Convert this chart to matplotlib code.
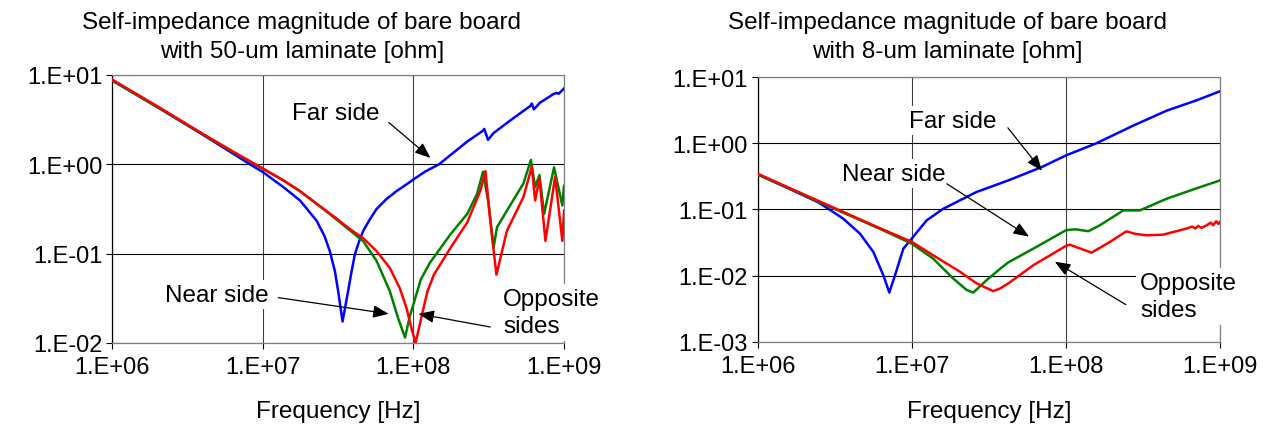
import matplotlib
matplotlib.use("Agg")
import matplotlib.pyplot as plt
from matplotlib.ticker import FixedLocator, FixedFormatter, NullLocator

plt.rcParams['font.family'] = ['Liberation Sans', 'DejaVu Sans']

FS = 17.5        # titles, axis titles and call-outs
FS_TICK = 17
BLUE, GREEN, RED = '#0000FF', '#008000', '#FF0000'

# ---- axis ticks ----------------------------------------------------------
freq_ticks = [1e6, 1e7, 1e8, 1e9]
freq_tick_labels = ['1.E+06', '1.E+07', '1.E+08', '1.E+09']

z_ticks_50 = [1e-2, 1e-1, 1e0, 1e1]
z_tick_labels_50 = ['1.E-02', '1.E-01', '1.E+00', '1.E+01']

z_ticks_8 = [1e-3, 1e-2, 1e-1, 1e0, 1e1]
z_tick_labels_8 = ['1.E-03', '1.E-02', '1.E-01', '1.E+00', '1.E+01']

# ---- 50-um laminate: self-impedance [ohm] vs frequency [Hz] --------------
far_50_f = [1.0e6, 2.0e6, 3.98e6, 6.31e6, 8.24e6, 1.0e7, 1.37e7, 1.77e7, 2.28e7,
            2.57e7, 2.79e7, 3.02e7, 3.17e7, 3.39e7, 3.69e7, 3.89e7, 4.09e7,
            4.37e7, 4.65e7, 5.13e7, 5.70e7, 6.61e7, 7.73e7, 8.91e7, 1.0e8,
            1.20e8, 1.48e8, 2.28e8, 2.86e8, 2.96e8, 3.13e8, 3.41e8, 4.47e8,
            5.96e8, 6.11e8, 6.31e8, 6.93e8, 8.49e8, 8.93e8, 9.23e8, 1.0e9]
far_50_z = [8.71, 4.37, 2.16, 1.33, 1.00, 0.822, 0.557, 0.394, 0.234,
            0.158, 0.107, 0.063, 0.038, 0.0174, 0.038, 0.063, 0.0977,
            0.138, 0.180, 0.240, 0.316, 0.407, 0.501, 0.589, 0.676,
            0.832, 1.00, 1.80, 2.34, 2.49, 1.88, 2.24, 3.16,
            4.49, 4.79, 4.12, 4.90, 6.10, 6.31, 6.17, 7.06]

near_50_f = [1.0e6, 2.0e6, 3.98e6, 6.31e6, 1.0e7, 1.37e7, 1.77e7, 2.28e7, 2.95e7,
             3.80e7, 4.65e7, 5.70e7, 6.98e7, 7.94e7, 8.81e7, 9.51e7, 1.0e8,
             1.12e8, 1.29e8, 1.77e8, 2.28e8, 2.65e8, 2.90e8, 3.16e8, 3.41e8,
             3.59e8, 4.18e8, 5.38e8, 6.03e8, 6.43e8, 6.87e8, 7.38e8, 8.59e8,
             9.75e8, 1.0e9]
near_50_z = [8.71, 4.37, 2.19, 1.38, 0.891, 0.661, 0.501, 0.363, 0.257,
             0.182, 0.138, 0.0832, 0.038, 0.0188, 0.0115, 0.0204, 0.0269,
             0.0513, 0.0794, 0.166, 0.279, 0.468, 0.826, 0.363, 0.117,
             0.197, 0.303, 0.610, 1.12, 0.558, 0.759, 0.279, 0.925,
             0.346, 0.575]

opp_50_f = [1.0e6, 2.0e6, 3.98e6, 6.31e6, 1.0e7, 1.37e7, 1.77e7, 2.28e7, 2.95e7,
            3.80e7, 4.65e7, 5.70e7, 6.98e7, 8.13e7, 9.02e7, 9.77e7, 1.035e8,
            1.12e8, 1.24e8, 1.37e8, 1.77e8, 2.28e8, 2.79e8, 3.01e8, 3.24e8,
            3.56e8, 4.18e8, 5.38e8, 6.11e8, 6.43e8, 6.87e8, 7.53e8, 8.73e8,
            9.75e8, 1.0e9]
opp_50_z = [8.91, 4.47, 2.21, 1.40, 0.902, 0.664, 0.501, 0.361, 0.263,
            0.188, 0.149, 0.107, 0.0692, 0.0411, 0.0244, 0.0141, 0.0100,
            0.0180, 0.0377, 0.0582, 0.117, 0.224, 0.512, 0.839, 0.234,
            0.0582, 0.180, 0.430, 0.94, 0.394, 0.693, 0.139, 0.724,
            0.139, 0.303]

# ---- 8-um laminate: self-impedance [ohm] vs frequency [Hz] ---------------
far_8_f = [1.0e6, 1.58e6, 2.51e6, 3.60e6, 4.62e6, 5.64e6, 6.55e6, 7.16e6, 7.80e6,
           8.83e6, 1.0e7, 1.25e7, 1.60e7, 2.63e7, 4.23e7, 6.97e7, 1.0e8,
           1.58e8, 2.74e8, 4.51e8, 7.08e8, 1.0e9]
far_8_z = [0.339, 0.209, 0.126, 0.0724, 0.0430, 0.0228, 0.0101, 0.00553, 0.0101,
           0.0255, 0.0361, 0.0682, 0.102, 0.183, 0.274, 0.436, 0.653,
           1.00, 1.85, 3.11, 4.47, 6.11]

near_8_f = [1.0e6, 2.51e6, 6.31e6, 1.0e7, 1.38e7, 1.86e7, 2.28e7, 2.51e7, 3.06e7,
            3.74e7, 4.23e7, 6.15e7, 1.0e8, 1.15e8, 1.40e8, 1.66e8, 2.36e8,
            3.02e8, 4.51e8, 7.41e8, 1.0e9]
near_8_z = [0.339, 0.129, 0.0501, 0.0304, 0.0180, 0.00902, 0.00603, 0.00553, 0.00851,
            0.0126, 0.0158, 0.0255, 0.0483, 0.0501, 0.0468, 0.0575, 0.0966,
            0.0966, 0.145, 0.217, 0.274]

opp_8_f = [1.0e6, 2.51e6, 6.31e6, 1.0e7, 1.38e7, 2.06e7, 2.64e7, 3.38e7, 3.74e7,
           4.23e7, 6.15e7, 1.0e8, 1.06e8, 1.20e8, 1.47e8, 1.93e8, 2.47e8,
           2.82e8, 3.33e8, 4.28e8, 5.01e8, 6.05e8, 6.61e8, 6.92e8, 7.24e8,
           7.59e8, 8.18e8, 8.71e8, 9.02e8, 9.44e8, 9.77e8, 1.0e9]
opp_8_z = [0.347, 0.133, 0.0513, 0.0324, 0.0202, 0.0114, 0.00759, 0.00581, 0.00637,
           0.00759, 0.0143, 0.0280, 0.0293, 0.0263, 0.0222, 0.0322, 0.0466,
           0.0427, 0.0406, 0.0415, 0.0457, 0.0512, 0.0550, 0.0513, 0.0562,
           0.0525, 0.0574, 0.0631, 0.0575, 0.0661, 0.0603, 0.0646]

fig = plt.figure(figsize=(12.7, 4.35), dpi=100)


def style_axes(ax, zticks, zlabels):
    ax.set_xscale('log')
    ax.set_yscale('log')
    ax.set_xlim(freq_ticks[0], freq_ticks[-1])
    ax.set_ylim(zticks[0], zticks[-1])
    ax.xaxis.set_major_locator(FixedLocator(freq_ticks))
    ax.xaxis.set_major_formatter(FixedFormatter(freq_tick_labels))
    ax.yaxis.set_major_locator(FixedLocator(zticks))
    ax.yaxis.set_major_formatter(FixedFormatter(zlabels))
    ax.xaxis.set_minor_locator(NullLocator())
    ax.yaxis.set_minor_locator(NullLocator())
    ax.tick_params(axis='both', labelsize=FS_TICK, direction='out', length=4,
                   width=0.8, color='black')
    ax.tick_params(axis='x', pad=5.5)
    ax.tick_params(axis='y', pad=3)
    ax.grid(True, axis='y', color='black', lw=0.8, zorder=0)
    ax.grid(True, axis='x', color='#404040', lw=0.8, zorder=0)
    ax.set_axisbelow(True)
    ax.spines['left'].set_color('black')
    for side in ('top', 'right', 'bottom'):
        ax.spines[side].set_color('#808080')
    for sp in ax.spines.values():
        sp.set_linewidth(0.9)
        sp.set_zorder(1)


def label(ax, text, xy, ha='center'):
    # xy is the baseline of the last line of the label
    ax.text(xy[0], xy[1], text, fontsize=FS, ha=ha, va='baseline',
            linespacing=1.3, zorder=6, clip_on=False,
            bbox=dict(boxstyle='square,pad=0.15', fc='white', ec='none'))


def arrow(ax, tail, tip):
    ax.annotate('', xy=tip, xytext=tail, zorder=7, annotation_clip=False,
                arrowprops=dict(arrowstyle='-|>,head_length=0.95,head_width=0.38',
                                mutation_scale=10, lw=0.9, color='black',
                                shrinkA=0, shrinkB=0))


# ---- left panel: 50-um laminate ------------------------------------------
ax1 = fig.add_axes([112 / 1270, (435 - 344) / 435, 452 / 1270, 268 / 435])
style_axes(ax1, z_ticks_50, z_tick_labels_50)
ax1.plot(far_50_f, far_50_z, color=BLUE, lw=1.8, zorder=3)
ax1.plot(near_50_f, near_50_z, color=GREEN, lw=1.8, zorder=3)
ax1.plot(opp_50_f, opp_50_z, color=RED, lw=1.8, zorder=3)

label(ax1, 'Far side', (3.06e7, 3.18))
arrow(ax1, (6.87e7, 2.94), (1.30e8, 1.18))
label(ax1, 'Near side', (4.94e6, 0.0298))
arrow(ax1, (1.27e7, 0.0322), (6.87e7, 0.0212))
label(ax1, 'Opposite\nsides', (3.95e8, 0.0133), ha='left')
arrow(ax1, (3.24e8, 0.0151), (1.08e8, 0.0212))

# ---- right panel: 8-um laminate ------------------------------------------
ax2 = fig.add_axes([757.5 / 1270, (435 - 342.7) / 435, 462.5 / 1270, 264.6 / 435])
style_axes(ax2, z_ticks_8, z_tick_labels_8)
ax2.plot(far_8_f, far_8_z, color=BLUE, lw=1.8, zorder=3)
ax2.plot(near_8_f, near_8_z, color=GREEN, lw=1.8, zorder=3)
ax2.plot(opp_8_f, opp_8_z, color=RED, lw=1.8, zorder=3)

label(ax2, 'Far side', (1.86e7, 1.79))
arrow(ax2, (4.21e7, 1.71), (7.00e7, 0.384))
label(ax2, 'Near side', (7.67e6, 0.281))
arrow(ax2, (1.69e7, 0.244), (5.77e7, 0.0388))
label(ax2, 'Opposite\nsides', (3.03e8, 0.00243), ha='left')
arrow(ax2, (2.45e8, 0.00363), (8.49e7, 0.0162))

# ---- titles and axis labels ----------------------------------------------
for cx, second in ((302, 'with 50-um laminate [ohm]'), (947, 'with 8-um laminate [ohm]')):
    fig.text(cx / 1270, (435 - 29) / 435, 'Self-impedance magnitude of bare board',
             fontsize=FS, ha='center', va='baseline')
    fig.text(cx / 1270, (435 - 58) / 435, second,
             fontsize=FS, ha='center', va='baseline')

for cx in (338, 989):
    fig.text(cx / 1270, (435 - 418) / 435, 'Frequency [Hz]',
             fontsize=FS, ha='center', va='baseline')

fig.savefig('out.png', dpi=100, facecolor='white')
